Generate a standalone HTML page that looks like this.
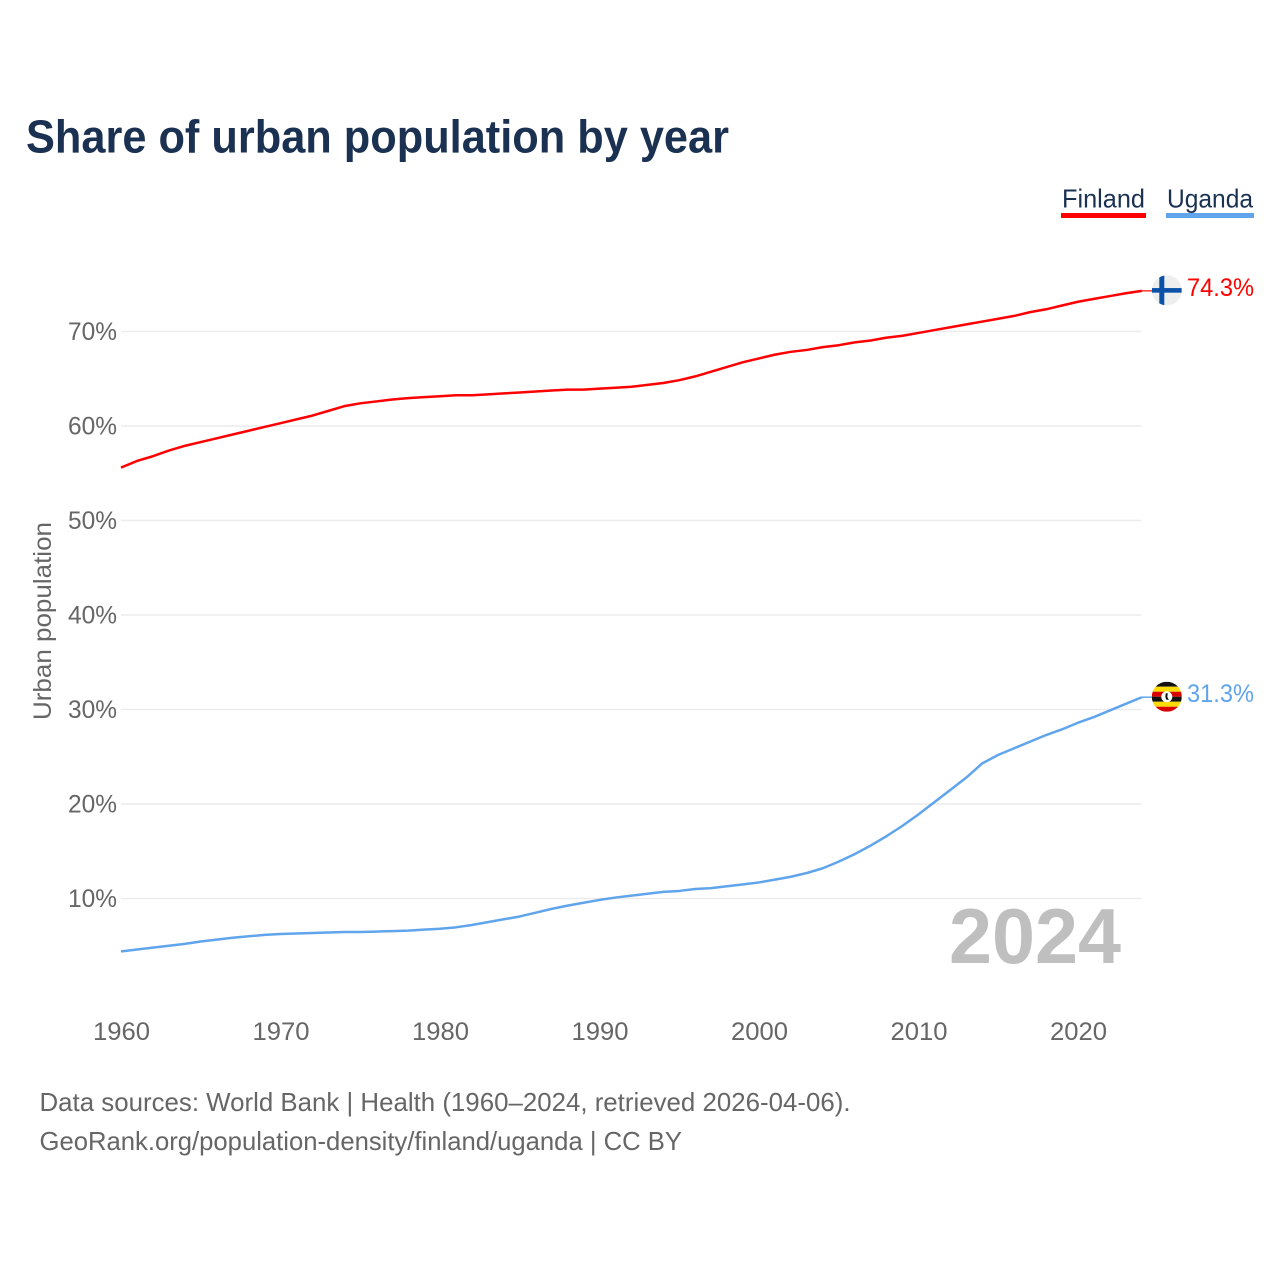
<!DOCTYPE html>
<html lang="en">
<head>
<meta charset="utf-8">
<title>Share of urban population by year</title>
<style>
html,body{margin:0;padding:0;background:#fff;width:1280px;height:1280px;overflow:hidden}
svg{display:block}
text{font-family:"Liberation Sans",sans-serif}
</style>
</head>
<body>
<svg id="chart" xmlns="http://www.w3.org/2000/svg" width="1280" height="1280" viewBox="0 0 1280 1280">
  <defs>
    <clipPath id="flag-clip"><circle cx="0" cy="0" r="15"></circle></clipPath>
  </defs>
  <rect width="1280" height="1280" fill="#fff"></rect>
  <text x="26" y="152.5" font-size="46" font-weight="700" fill="#1a3152" textLength="703" lengthAdjust="spacingAndGlyphs">Share of urban population by year</text>

  <g>
    <text x="1062" y="207.5" font-size="26" fill="#1a3152" textLength="83" lengthAdjust="spacingAndGlyphs">Finland</text>
    <rect x="1061" y="213" width="85" height="5" fill="#ff0000"></rect>
  </g>
  <g>
    <text x="1167" y="207.5" font-size="26" fill="#1a3152" textLength="86" lengthAdjust="spacingAndGlyphs">Uganda</text>
    <rect x="1166" y="213" width="88" height="5" fill="#60a5ec"></rect>
  </g>

  <g id="grid"></g>
  <g id="y-axis"></g>
  <g id="x-axis"></g>

  <text transform="translate(51 621) rotate(-90)" text-anchor="middle" font-size="25" fill="#666" textLength="198" lengthAdjust="spacingAndGlyphs">Urban population</text>
  <text x="949" y="963" font-size="78" font-weight="700" fill="#bfbfbf" textLength="172" lengthAdjust="spacingAndGlyphs">2024</text>

  <path id="line-finland" fill="none" stroke="#ff0000" stroke-width="2.5" stroke-linejoin="round"></path>
  <path id="line-uganda" fill="none" stroke="#60a5ec" stroke-width="2.5" stroke-linejoin="round"></path>
  <path id="tail-finland" fill="none" stroke="#ff0000" stroke-width="1.2"></path>
  <path id="tail-uganda" fill="none" stroke="#60a5ec" stroke-width="1.5"></path>

  <g id="flag-finland">
    <g clip-path="url(#flag-clip)">
      <rect x="-15" y="-15" width="30" height="30" fill="#eeeeee"></rect>
      <rect x="-7.5" y="-15" width="5" height="30" fill="#0a51a8"></rect>
      <rect x="-15" y="-2.3" width="30" height="4.6" fill="#0a51a8"></rect>
    </g>
  </g>
  <g id="flag-uganda">
    <g clip-path="url(#flag-clip)">
      <rect x="-15" y="-15" width="30" height="5" fill="#111111"></rect>
      <rect x="-15" y="-10" width="30" height="5" fill="#fcdc04"></rect>
      <rect x="-15" y="-5" width="30" height="5" fill="#d90000"></rect>
      <rect x="-15" y="0" width="30" height="5" fill="#111111"></rect>
      <rect x="-15" y="5" width="30" height="5" fill="#fcdc04"></rect>
      <rect x="-15" y="10" width="30" height="5" fill="#d90000"></rect>
      <circle cx="0" cy="0" r="5.5" fill="#ffffff"></circle>
      <path d="M-1 -3.5 L1 -3.5 L0.5 0 L2 3 L-0.5 3 L-1.5 0 Z" fill="#111111"></path>
    </g>
  </g>

  <text id="value-finland" x="1187" font-size="25" fill="#ff0000" textLength="67" lengthAdjust="spacingAndGlyphs"></text>
  <text id="value-uganda" x="1187" font-size="25" fill="#60a5ec" textLength="67" lengthAdjust="spacingAndGlyphs"></text>

  <text x="39.5" y="1111" font-size="26" fill="#666" textLength="811" lengthAdjust="spacingAndGlyphs">Data sources: World Bank | Health (1960–2024, retrieved 2026-04-06).</text>
  <text x="39.5" y="1150" font-size="26" fill="#666" textLength="642.5" lengthAdjust="spacingAndGlyphs">GeoRank.org/population-density/finland/uganda | CC BY</text>
</svg>
<script>
var firstYear = 1960;
var yTickValues = [10, 20, 30, 40, 50, 60, 70];
var xTickValues = [1960, 1970, 1980, 1990, 2000, 2010, 2020];
var finlandValues = [
  55.6, 56.3, 56.8, 57.4, 57.9, 58.3, 58.7, 59.1, 59.5, 59.9,
  60.3, 60.7, 61.1, 61.6, 62.1, 62.4, 62.6, 62.8, 62.95, 63.05,
  63.15, 63.25, 63.25, 63.35, 63.45, 63.55, 63.65, 63.75, 63.85, 63.85,
  63.95, 64.05, 64.15, 64.35, 64.55, 64.85, 65.25, 65.75, 66.25, 66.75,
  67.15, 67.55, 67.85, 68.05, 68.35, 68.55, 68.85, 69.05, 69.35, 69.55,
  69.85, 70.15, 70.45, 70.75, 71.05, 71.35, 71.65, 72.05, 72.35, 72.75,
  73.15, 73.45, 73.75, 74.05, 74.3
];
var ugandaValues = [
  4.4, 4.6, 4.8, 5.0, 5.2, 5.45, 5.65, 5.85, 6.0, 6.15,
  6.25, 6.3, 6.35, 6.4, 6.45, 6.45, 6.5, 6.55, 6.6, 6.7,
  6.8, 6.95, 7.2, 7.5, 7.8, 8.1, 8.5, 8.9, 9.25, 9.55,
  9.85, 10.1, 10.3, 10.5, 10.7, 10.8, 11.0, 11.1, 11.3, 11.5,
  11.7, 12.0, 12.3, 12.7, 13.2, 13.9, 14.7, 15.6, 16.6, 17.7,
  18.9, 20.2, 21.5, 22.8, 24.3, 25.2, 25.9, 26.6, 27.3, 27.9,
  28.6, 29.2, 29.9, 30.6, 31.3
];

var SVG_NS = 'http://www.w3.org/2000/svg';
function xScale(year) { return 121 + (year - 1960) * 15.95; }
function yScale(value) { return 993 - value * 9.45; }
function linePath(values) {
  return values.map(function (v, i) {
    return (i ? 'L' : 'M') + xScale(firstYear + i).toFixed(2) + ' ' + yScale(v).toFixed(2);
  }).join(' ');
}

var grid = document.getElementById('grid');
var yAxis = document.getElementById('y-axis');
var xAxis = document.getElementById('x-axis');

yTickValues.forEach(function (v) {
  var y = yScale(v);
  var line = document.createElementNS(SVG_NS, 'line');
  
  
  line.setAttribute('x1', 121);
  line.setAttribute('x2', 1141.5);
  line.setAttribute('y1', y);
  line.setAttribute('y2', y);
  line.setAttribute('stroke', '#ececec');
  line.setAttribute('stroke-width', '1.5');
  grid.appendChild(line);

  var label = document.createElementNS(SVG_NS, 'text');
  
  
  label.setAttribute('x', 68);
  label.setAttribute('y', y + 8.5);
  label.setAttribute('font-size', '25');
  label.setAttribute('fill', '#666');
  label.setAttribute('textLength', '49');
  label.setAttribute('lengthAdjust', 'spacingAndGlyphs');
  label.textContent = v + '%';
  yAxis.appendChild(label);
});

xTickValues.forEach(function (year) {
  var label = document.createElementNS(SVG_NS, 'text');
  
  
  label.setAttribute('x', xScale(year) - 28);
  label.setAttribute('y', 1040);
  label.setAttribute('font-size', '25');
  label.setAttribute('fill', '#666');
  label.setAttribute('textLength', '57');
  label.setAttribute('lengthAdjust', 'spacingAndGlyphs');
  label.textContent = year;
  xAxis.appendChild(label);
});

function drawSeries(key, values) {
  var last = values[values.length - 1];
  var endX = xScale(firstYear + values.length - 1);
  var endY = yScale(last);
  document.getElementById('line-' + key).setAttribute('d', linePath(values));
  document.getElementById('tail-' + key).setAttribute('d', 'M' + endX + ' ' + endY + ' L1153 ' + endY);
  document.getElementById('flag-' + key).setAttribute('transform', 'translate(1166.8 ' + (endY - 0.5) + ')');
  var valueLabel = document.getElementById('value-' + key);
  valueLabel.setAttribute('y', endY + 5);
  valueLabel.textContent = last.toFixed(1) + '%';
}

drawSeries('finland', finlandValues);
drawSeries('uganda', ugandaValues);
</script>
</body>
</html>
